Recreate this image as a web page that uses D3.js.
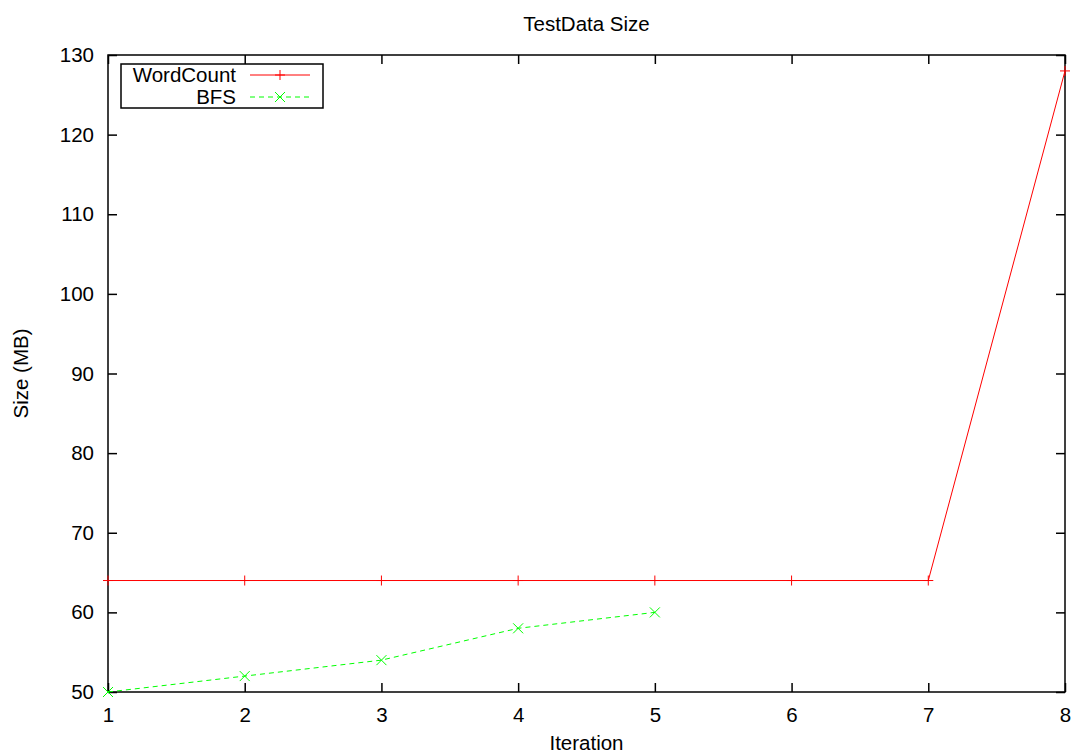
<!DOCTYPE html>
<html>
<head>
<meta charset="utf-8">
<script src="https://cdn.jsdelivr.net/npm/d3@7"></script>
<style>
  body { margin: 0; background: #fff; }
  text { font-family: "Liberation Sans", Arial, sans-serif; }
</style>
</head>
<body>
<script>
// data
const iterations = [1, 2, 3, 4, 5, 6, 7, 8];
const wordCount = [64, 64, 64, 64, 64, 64, 64, 128];
const bfsIter = [1, 2, 3, 4, 5];
const bfs = [50, 52, 54, 58, 60];
const yTicks = [50, 60, 70, 80, 90, 100, 110, 120, 130];

const width = 1073;
const height = 754;
const margin = { top: 55, right: 8, bottom: 62, left: 108 };

const svg = d3
  .select("body")
  .append("svg")
  .attr("width", width)
  .attr("height", height);

const x = d3
  .scaleLinear()
  .domain([1, 8])
  .range([margin.left, width - margin.right]);

const y = d3
  .scaleLinear()
  .domain([50, 130])
  .range([height - margin.bottom, margin.top]);

const fontSize = "20.5px";

// axes, ticks pointing inward on all four sides
const gx = svg
  .append("g")
  .attr("transform", `translate(0,${y(50)})`)
  .call(d3.axisBottom(x).tickValues(iterations).tickSize(-9).tickPadding(15.5).tickFormat(d3.format("d")));

svg
  .append("g")
  .attr("transform", `translate(0,${y(130)})`)
  .call(d3.axisTop(x).tickValues(iterations).tickSize(-9).tickFormat(""));

const gy = svg
  .append("g")
  .attr("transform", `translate(${x(1)},0)`)
  .call(d3.axisLeft(y).tickValues(yTicks).tickSize(-9).tickPadding(14));

svg
  .append("g")
  .attr("transform", `translate(${x(8)},0)`)
  .call(d3.axisRight(y).tickValues(yTicks).tickSize(-9).tickFormat(""));

svg.selectAll(".domain").remove();
svg.selectAll(".tick line").attr("stroke", "#000").attr("stroke-width", 1.5);
svg.selectAll(".tick text")
  .attr("fill", "#000")
  .style("font-size", fontSize)
  .style("font-family", '"Liberation Sans", Arial, sans-serif');

// frame
svg
  .append("rect")
  .attr("x", x(1))
  .attr("y", y(130))
  .attr("width", x(8) - x(1))
  .attr("height", y(50) - y(130))
  .attr("fill", "none")
  .attr("stroke", "#000")
  .attr("stroke-width", 1.5);

// lines
const line = d3.line().x((d) => x(d[0])).y((d) => y(d[1]));

const wcData = iterations.map((it, i) => [it, wordCount[i]]);
const bfsData = bfsIter.map((it, i) => [it, bfs[i]]);

svg
  .append("path")
  .datum(wcData)
  .attr("d", line)
  .attr("fill", "none")
  .attr("stroke", "#ff0000")
  .attr("stroke-width", 1);

svg
  .append("path")
  .datum(bfsData)
  .attr("d", line)
  .attr("fill", "none")
  .attr("stroke", "#00ff00")
  .attr("stroke-width", 1)
  .attr("stroke-dasharray", "5,4");

const plus = (g, cx, cy) => {
  g.append("path")
    .attr("d", `M${cx - 5},${cy}H${cx + 5}M${cx},${cy - 5}V${cy + 5}`)
    .attr("stroke", "#ff0000")
    .attr("stroke-width", 1);
};
const cross = (g, cx, cy) => {
  g.append("path")
    .attr("d", `M${cx - 5},${cy - 5}L${cx + 5},${cy + 5}M${cx - 5},${cy + 5}L${cx + 5},${cy - 5}`)
    .attr("stroke", "#00ff00")
    .attr("stroke-width", 1);
};

const marks = svg.append("g");
wcData.forEach((d) => plus(marks, x(d[0]), y(d[1])));
bfsData.forEach((d) => cross(marks, x(d[0]), y(d[1])));

// legend
const legend = svg.append("g");
legend
  .append("rect")
  .attr("x", 121)
  .attr("y", 64)
  .attr("width", 202)
  .attr("height", 44)
  .attr("fill", "#fff")
  .attr("stroke", "#000")
  .attr("stroke-width", 1.5);

const legendItems = [
  { name: "WordCount", color: "#ff0000", dash: null, mark: plus },
  { name: "BFS", color: "#00ff00", dash: "5,4", mark: cross }
];

legendItems.forEach((item, i) => {
  const ly = 75 + i * 22;
  legend
    .append("text")
    .attr("x", 236)
    .attr("y", ly + 7)
    .attr("text-anchor", "end")
    .style("font-size", fontSize)
    .text(item.name);
  legend
    .append("line")
    .attr("x1", 250)
    .attr("x2", 310)
    .attr("y1", ly)
    .attr("y2", ly)
    .attr("stroke", item.color)
    .attr("stroke-width", 1)
    .attr("stroke-dasharray", item.dash);
  item.mark(legend, 280, ly);
});

// titles
svg
  .append("text")
  .attr("x", (x(1) + x(8)) / 2)
  .attr("y", 31)
  .attr("text-anchor", "middle")
  .style("font-size", fontSize)
  .text("TestData Size");

svg
  .append("text")
  .attr("x", (x(1) + x(8)) / 2)
  .attr("y", 750)
  .attr("text-anchor", "middle")
  .style("font-size", fontSize)
  .text("Iteration");

svg
  .append("text")
  .attr("transform", `translate(28,${(y(50) + y(130)) / 2}) rotate(-90)`)
  .attr("text-anchor", "middle")
  .style("font-size", fontSize)
  .text("Size (MB)");
</script>
</body>
</html>
